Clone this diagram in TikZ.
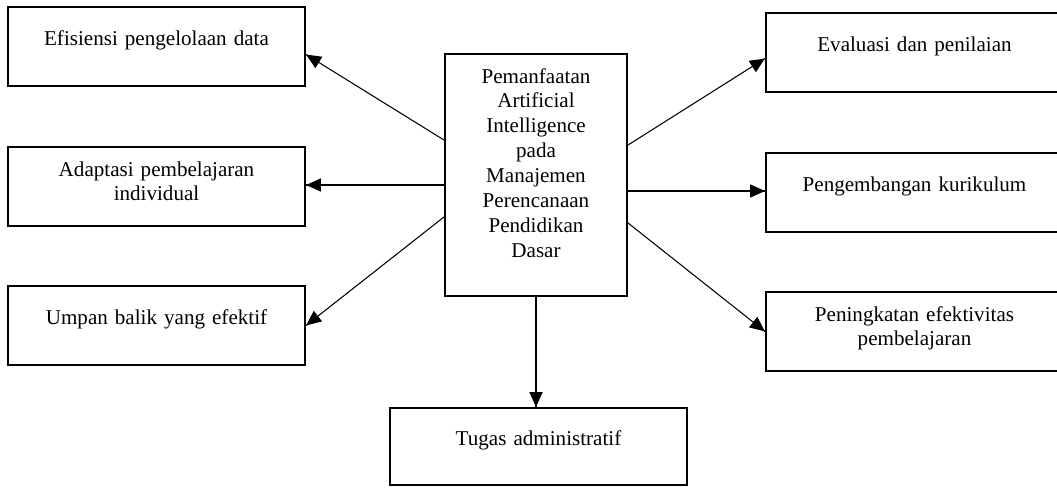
\documentclass[tikz,border=0pt]{standalone}
\usepackage{fontspec}
\setmainfont{Liberation Serif}
\usepackage{tikz}
\usetikzlibrary{arrows.meta}
\usetikzlibrary{decorations.markings}
\tikzset{arr/.style = {line width = 0.6pt,
                       decoration={markings,
                                   mark=at position 1 with {\arrow{Triangle[length=8.5pt, width=7.5pt]}}},
                       postaction={decorate}}}
\tikzset{box/.style = {draw, line width = 1.2pt, inner sep = 0, align = center,
                       font = \fontsize{12}{14.2}\selectfont}}
\tikzset{sidebox/.style = {box, text width = 5.94cm}}
\tikzset{oneline/.style = {text height = 0.76cm, text depth = 0.82cm}}
\tikzset{twoline/.style = {text height = 0.58cm, text depth = 1.0cm}}

\begin{document}
\begin{tikzpicture}[x = 0.02cm, y = -0.02cm]
    \useasboundingbox (0, 0) rectangle (1057, 487);
    \clip (0, 0) rectangle (1057, 487);
    % middle
    \node [box, text width = 3.64cm, text height = 0.58cm, text depth = 4.26cm] (pem) at (536, 175)
      {Pemanfaatan\\Artificial\\Intelligence\\pada\\Manajemen\\Perencanaan\\Pendidikan\\Dasar};
    % left side
    \node [sidebox, oneline] (eff) at (156.5, 46.5) {Efisiensi pengelolaan data};
    \node [sidebox, twoline] (adap) at (156.5, 186.5) {Adaptasi pembelajaran\\individual};
    \node [sidebox, oneline] (umpan) at (156.5, 325.5) {Umpan balik yang efektif};
    % right side
    \node [sidebox, oneline] (eval) at (914.5, 52.5) {Evaluasi dan penilaian};
    \node [sidebox, oneline] (peng) at (914.5, 192.5) {Pengembangan kurikulum};
    \node [sidebox, twoline] (pening) at (914.5, 331.5) {Peningkatan efektivitas\\pembelajaran};
    % bottom
    \node [sidebox, text height = 0.74cm, text depth = 0.80cm] (tugas) at (538.5, 446.5) {Tugas administratif};

    \draw [arr] ([yshift=0.7cm]pem.west) -- ([yshift=-0.16cm]eff.east);
    \draw [arr] ([yshift=-0.2cm]pem.west) -- ([yshift=-0.2cm]pem.west -| adap.east);
    \draw [arr] ([yshift=-0.84cm]pem.west) -- (umpan.east);
    \draw [arr] ([yshift=0.6cm]pem.east) -- ([yshift=-0.12cm]eval.west);
    \draw [arr] ([yshift=-0.32cm]pem.east) -- ([yshift=-0.32cm]pem.east -| peng.west);
    \draw [arr] ([yshift=-0.96cm]pem.east) -- (pening.west);
    \draw [arr] (pem.south) -- (pem.south |- tugas.north);
  \end{tikzpicture}
\end{document}
